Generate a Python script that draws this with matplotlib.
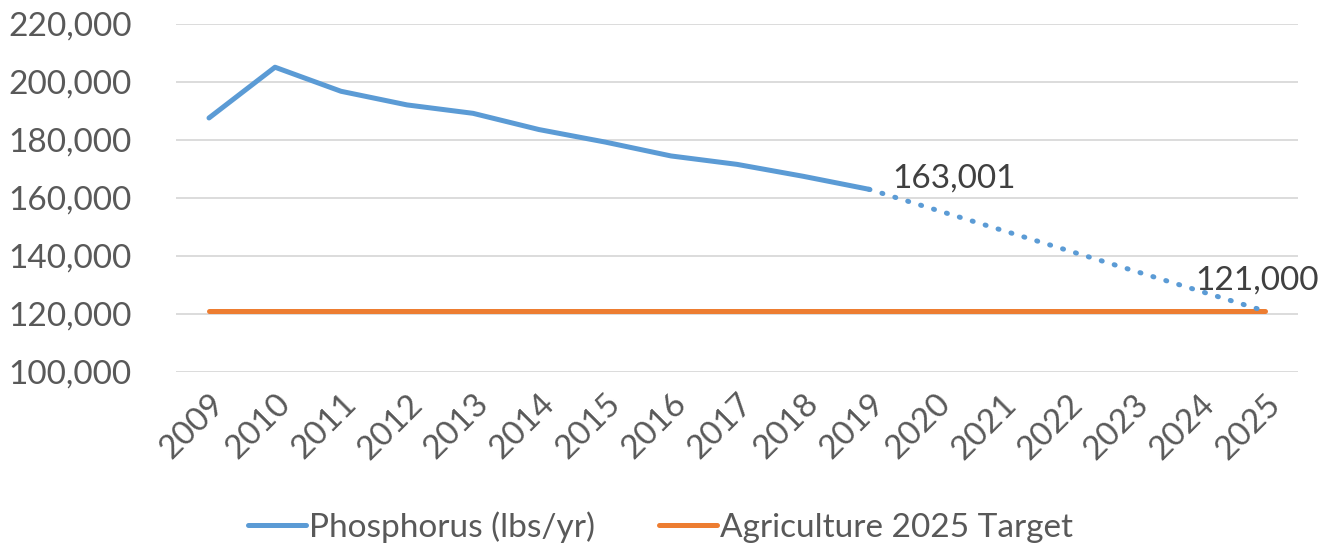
import matplotlib
matplotlib.use("Agg")
import matplotlib.pyplot as plt
from matplotlib.ticker import FuncFormatter

years = ["2009", "2010", "2011", "2012", "2013", "2014", "2015", "2016", "2017",
         "2018", "2019", "2020", "2021", "2022", "2023", "2024", "2025"]
phosphorus = [187600, 205100, 196800, 192100, 189200, 183600, 179300, 174500, 171600,
              167500, 163001]
projection_years = ["2019", "2025"]
projection = [163001, 121000]
target = [121000] * len(years)

BLUE = "#5B9BD5"
ORANGE = "#ED7D31"
GRAY = "#595959"
FONT = "Lato"
FS = 24

plt.rcParams["font.family"] = [FONT, "DejaVu Sans"]

fig = plt.figure(figsize=(13.21, 5.47), dpi=100)
ax = fig.add_axes([176 / 1321, 1 - 372 / 547, (1298 - 176) / 1321, (372 - 24) / 547])

x = list(range(len(years)))
xi = {y: i for i, y in enumerate(years)}

ax.plot(x, target, color=ORANGE, lw=3.6, solid_capstyle="round", label="Agriculture 2025 Target", zorder=3)
ax.plot(x[:len(phosphorus)], phosphorus, color=BLUE, lw=3.6, solid_capstyle="round",
        solid_joinstyle="round", label="Phosphorus (lbs/yr)", zorder=4)
ax.plot([xi[y] for y in projection_years], projection, color=BLUE, lw=3.6,
        linestyle=(0, (0.2, 2.5)), dash_capstyle="round", zorder=4)

ax.annotate(f"{projection[0]:,}", (xi[projection_years[0]], projection[0]), xytext=(17, 8),
            textcoords="offset points", fontsize=FS, color="#404040", ha="left", va="center")
ax.annotate(f"{projection[1]:,}", (xi[projection_years[1]], projection[1]), xytext=(-6, 22),
            textcoords="offset points", fontsize=FS, color="#404040", ha="center", va="center")

ax.set_xlim(-0.5, len(years) - 0.5)
ax.set_ylim(100000, 220000)
ax.set_yticks(range(100000, 220001, 20000))
ax.yaxis.set_major_formatter(FuncFormatter(lambda v, p: f"{int(v):,}"))
ax.set_xticks(x)
ax.set_xticklabels(years, rotation=45, ha="right", rotation_mode="anchor")
ax.tick_params(axis="both", length=0, colors=GRAY, labelsize=FS)
ax.tick_params(axis="y", pad=32)
ax.tick_params(axis="x", pad=12)
for lbl in ax.get_xticklabels() + ax.get_yticklabels():
    lbl.set_color(GRAY)
ax.grid(axis="y", color="#D9D9D9", lw=1.3)
ax.set_axisbelow(True)
for s in ax.spines.values():
    s.set_visible(False)

handles, labels = ax.get_legend_handles_labels()
order = [1, 0]
leg = fig.legend([handles[i] for i in order], [labels[i] for i in order], loc="center",
                 bbox_to_anchor=(0.5, 1 - 527 / 547), ncol=2, frameon=False, fontsize=FS,
                 handlelength=1.75, handletextpad=0.1, columnspacing=1.9)
for t in leg.get_texts():
    t.set_color(GRAY)

fig.savefig("out.png", dpi=100)
